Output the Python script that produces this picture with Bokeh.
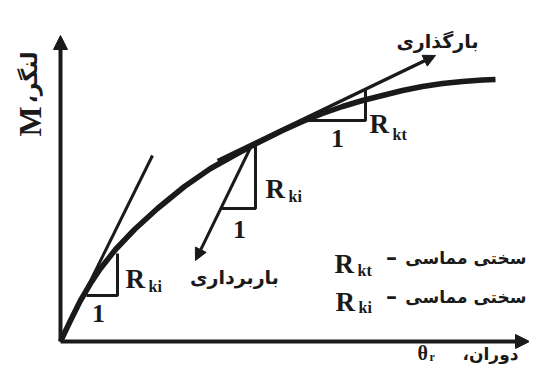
import math
from bokeh.plotting import figure
from bokeh.models import Range1d, Arrow, NormalHead
from bokeh.core.properties import value
from bokeh.embed import file_html
from bokeh.resources import INLINE

# ---- data (schematic units: rotation theta_r, moment M) ----
curve_theta = [0, 10, 20, 30, 40, 55, 74, 97, 124, 150, 177, 192, 222, 242, 262, 282, 302, 322, 342, 362, 382, 402, 422, 435]
curve_M = [0, 21, 41, 58, 73, 92, 112, 133, 155, 173, 188, 196, 211, 220, 228, 235, 241, 246, 251, 255, 258, 260, 261.5, 262]

init_theta = [0, 92]        # initial stiffness tangent
init_M = [0, 186]
unload_theta = [192, 135]   # unloading (parallel to initial)
unload_M = [198, 81]
load_theta = [157, 375]     # loading tangent
load_M = [181, 286]

tri_lo_theta = [26, 57, 57]
tri_lo_M = [46, 46, 88]
tri_mid_theta = [160, 195, 195]
tri_mid_M = [133, 133, 198]
tri_up_theta = [240, 305, 305]
tri_up_M = [221, 221, 252]

axis_theta_end = 469
axis_M_end = 306

one_theta = [38, 179, 277]
one_M = [28, 112, 203]
R_theta = [65, 205, 309, 274, 275]
R_M = [63, 153, 218, 78, 40]
sub_theta = [88, 228, 332, 297, 298]
sub_M = [55, 145, 207, 71, 34]
sub_text = ["ki", "ki", "kt", "kt", "ki"]

dash_theta = [331, 331]
dash_M = [84, 45]
leg_theta = [466, 466]
leg_M = [84, 45]
leg_text = ["سختی مماسی", "سختی مماسی"]

arrow_lbl_theta = [377, 174]
arrow_lbl_M = [301, 65]
arrow_lbl_text = ["بارگذاری", "باربرداری"]

p = figure(width=529, height=364, x_range=Range1d(-60, 469), y_range=Range1d(-23, 341),
           output_backend="svg", toolbar_location=None, min_border=0,
           x_axis_location=None, y_axis_location=None)
p.grid.visible = False
p.outline_line_color = None
p.background_fill_color = "white"
p.border_fill_color = "white"

ink = "#1a1a1a"

# axes
p.add_layout(Arrow(end=NormalHead(size=14, fill_color=ink, line_color=ink), x_start=0, y_start=0,
                   x_end=0, y_end=axis_M_end, line_width=4, line_color=ink))
p.add_layout(Arrow(end=NormalHead(size=14, fill_color=ink, line_color=ink), x_start=0, y_start=0,
                   x_end=axis_theta_end, y_end=0, line_width=4, line_color=ink))

# curve and tangents
p.line(curve_theta, curve_M, line_width=5.5, line_color=ink, line_join="round")
p.line(init_theta, init_M, line_width=3, line_color=ink)
p.add_layout(Arrow(end=NormalHead(size=12, fill_color=ink, line_color=ink),
                   x_start=unload_theta[0], y_start=unload_M[0], x_end=unload_theta[1], y_end=unload_M[1],
                   line_width=3, line_color=ink))
p.add_layout(Arrow(end=NormalHead(size=12, fill_color=ink, line_color=ink),
                   x_start=load_theta[0], y_start=load_M[0], x_end=load_theta[1], y_end=load_M[1],
                   line_width=3.5, line_color=ink))

for tx, ty in [(tri_lo_theta, tri_lo_M), (tri_mid_theta, tri_mid_M), (tri_up_theta, tri_up_M)]:
    p.line(tx, ty, line_width=3, line_color=ink)

serif = value("Liberation Serif")
sans = value("DejaVu Sans")

p.text(one_theta, one_M, text=["1", "1", "1"], text_font=serif, text_font_style="bold",
       text_font_size="26px", text_align="center", text_baseline="middle", text_color=ink)
p.text(R_theta, R_M, text=["R"] * 5, text_font=serif, text_font_style="bold",
       text_font_size="27px", text_align="left", text_baseline="alphabetic", text_color=ink)
p.text(sub_theta, sub_M, text=sub_text, text_font=serif, text_font_style="bold",
       text_font_size="16px", text_align="left", text_baseline="alphabetic", text_color=ink)
p.text(dash_theta, dash_M, text=["–", "–"], text_font=sans, text_font_style="bold",
       text_font_size="22px", text_align="center", text_baseline="middle", text_color=ink)
p.text(leg_theta, leg_M, text=leg_text, text_font=sans, text_font_style="bold",
       text_font_size="17px", text_align="right", text_baseline="middle", text_color=ink)
p.text(arrow_lbl_theta, arrow_lbl_M, text=arrow_lbl_text, text_font=sans, text_font_style="bold",
       text_font_size="19px", text_align="center", text_baseline="middle", text_color=ink)

# axis labels
p.text([357], [-11], text=["θ"], text_font=serif, text_font_style="bold",
       text_font_size="20px", text_align="left", text_baseline="middle", text_color=ink)
p.text([369], [-15], text=["r"], text_font=serif, text_font_style="bold",
       text_font_size="12px", text_align="left", text_baseline="middle", text_color=ink)
p.text([430], [-12], text=["،دوران"], text_font=sans, text_font_style="bold",
       text_font_size="17px", text_align="center", text_baseline="middle", text_color=ink)
p.text([-31], [220], text=["M"], text_font=serif, text_font_style="bold", angle=math.pi / 2,
       text_font_size="32px", text_align="center", text_baseline="middle", text_color=ink)
p.text([-31], [264], text=["،لنگر"], text_font=sans, text_font_style="bold", angle=math.pi / 2,
       text_font_size="22px", text_align="center", text_baseline="middle", text_color=ink)

open("out.html", "w").write(file_html(p, INLINE))
